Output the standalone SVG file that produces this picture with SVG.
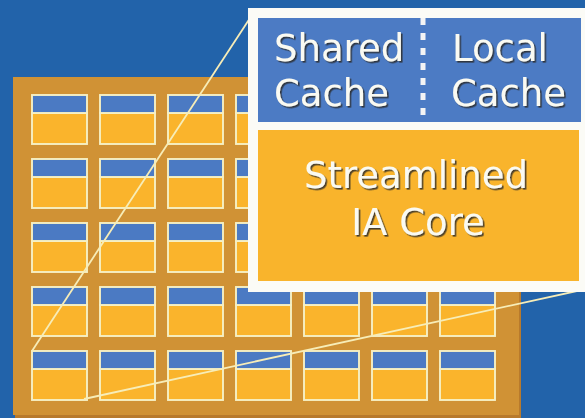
<svg xmlns="http://www.w3.org/2000/svg" width="585" height="418" viewBox="0 0 585 418">
<defs>
<style>
.tb{fill:#4B7AC3;stroke:#F6F0C4;stroke-width:1.9}
.tg{fill:#FAB42C;stroke:#F6F0C4;stroke-width:1.9}
.conn{stroke:#F7EDB8;stroke-width:1.8;fill:none}
.lbl{font-family:"DejaVu Sans","Verdana",sans-serif;font-size:37px;fill:#FAFAF2;filter:url(#sh)}
</style>
<filter id="sh" x="-10%" y="-20%" width="120%" height="140%">
<feDropShadow dx="1.6" dy="1.6" stdDeviation="0.4" flood-color="#2a2a2a" flood-opacity="0.85"/>
</filter>
<g id="tile">
<rect class="tg" x="0" y="18" width="55" height="31"/>
<rect class="tb" x="0" y="0" width="55" height="18"/>
</g>
</defs>
<rect x="0" y="0" width="585" height="418" fill="#2263AA"/>
<g id="chip">
<rect x="15" y="80" width="506" height="338" fill="#B87A2C"/>
<rect x="13" y="77" width="506" height="338" fill="#D09235"/>
</g>
<g id="tiles">
<g id="tile-r1c1"><use href="#tile" x="32" y="95"/></g>
<g id="tile-r1c2"><use href="#tile" x="100" y="95"/></g>
<g id="tile-r1c3"><use href="#tile" x="168" y="95"/></g>
<g id="tile-r1c4"><use href="#tile" x="236" y="95"/></g>
<g id="tile-r1c5"><use href="#tile" x="304" y="95"/></g>
<g id="tile-r1c6"><use href="#tile" x="372" y="95"/></g>
<g id="tile-r1c7"><use href="#tile" x="440" y="95"/></g>
<g id="tile-r2c1"><use href="#tile" x="32" y="159"/></g>
<g id="tile-r2c2"><use href="#tile" x="100" y="159"/></g>
<g id="tile-r2c3"><use href="#tile" x="168" y="159"/></g>
<g id="tile-r2c4"><use href="#tile" x="236" y="159"/></g>
<g id="tile-r2c5"><use href="#tile" x="304" y="159"/></g>
<g id="tile-r2c6"><use href="#tile" x="372" y="159"/></g>
<g id="tile-r2c7"><use href="#tile" x="440" y="159"/></g>
<g id="tile-r3c1"><use href="#tile" x="32" y="223"/></g>
<g id="tile-r3c2"><use href="#tile" x="100" y="223"/></g>
<g id="tile-r3c3"><use href="#tile" x="168" y="223"/></g>
<g id="tile-r3c4"><use href="#tile" x="236" y="223"/></g>
<g id="tile-r3c5"><use href="#tile" x="304" y="223"/></g>
<g id="tile-r3c6"><use href="#tile" x="372" y="223"/></g>
<g id="tile-r3c7"><use href="#tile" x="440" y="223"/></g>
<g id="tile-r4c1"><use href="#tile" x="32" y="287"/></g>
<g id="tile-r4c2"><use href="#tile" x="100" y="287"/></g>
<g id="tile-r4c3"><use href="#tile" x="168" y="287"/></g>
<g id="tile-r4c4"><use href="#tile" x="236" y="287"/></g>
<g id="tile-r4c5"><use href="#tile" x="304" y="287"/></g>
<g id="tile-r4c6"><use href="#tile" x="372" y="287"/></g>
<g id="tile-r4c7"><use href="#tile" x="440" y="287"/></g>
<g id="tile-r5c1"><use href="#tile" x="32" y="351"/></g>
<g id="tile-r5c2"><use href="#tile" x="100" y="351"/></g>
<g id="tile-r5c3"><use href="#tile" x="168" y="351"/></g>
<g id="tile-r5c4"><use href="#tile" x="236" y="351"/></g>
<g id="tile-r5c5"><use href="#tile" x="304" y="351"/></g>
<g id="tile-r5c6"><use href="#tile" x="372" y="351"/></g>
<g id="tile-r5c7"><use href="#tile" x="440" y="351"/></g>
</g>
<g id="connectors">
<line class="conn" x1="32" y1="351" x2="254" y2="12"/>
<line class="conn" x1="84" y1="399" x2="586" y2="289"/>
</g>
<g id="callout">
<rect x="248" y="8" width="340" height="284" fill="#FBFBF6"/>
<rect x="258" y="18" width="323" height="104" fill="#4C7BC4"/>
<rect x="258" y="130" width="321" height="151" fill="#F9B42C"/>
<line x1="423" y1="18" x2="423" y2="122" stroke="#F4F4F4" stroke-width="5" stroke-dasharray="7 8"/>
<text class="lbl" x="274" y="61">Shared</text>
<text class="lbl" x="274" y="106">Cache</text>
<text class="lbl" x="452" y="61">Local</text>
<text class="lbl" x="451" y="106">Cache</text>
<text class="lbl" x="416" y="188" text-anchor="middle">Streamlined</text>
<text class="lbl" x="418" y="235" text-anchor="middle">IA Core</text>
</g>
</svg>
